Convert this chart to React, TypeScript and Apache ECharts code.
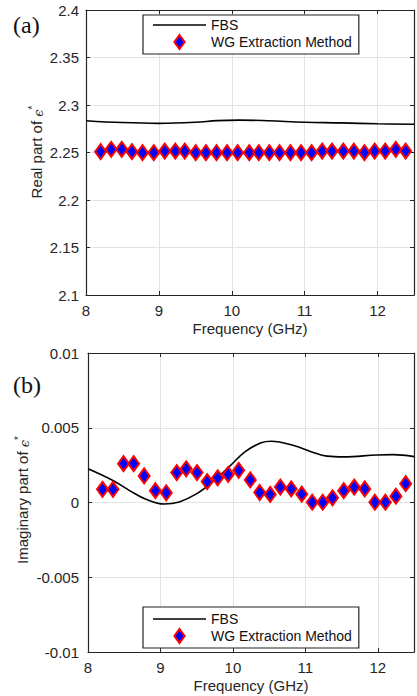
import React, { useEffect, useRef } from 'react';
import * as echarts from 'echarts';

const freq = [8.2, 8.345, 8.49, 8.63, 8.775, 8.93, 9.08, 9.225, 9.355, 9.505, 9.645, 9.79, 9.935, 10.08, 10.24, 10.37, 10.515, 10.655, 10.805, 10.95, 11.095, 11.24, 11.375, 11.53, 11.675, 11.82, 11.96, 12.105, 12.25, 12.385];
const realWG = [2.2509, 2.2533, 2.2533, 2.2509, 2.2498, 2.2498, 2.2515, 2.2515, 2.2515, 2.2498, 2.2498, 2.2498, 2.2498, 2.2498, 2.2498, 2.2498, 2.2498, 2.2498, 2.2498, 2.2498, 2.2498, 2.2515, 2.2515, 2.2515, 2.2515, 2.2498, 2.2515, 2.2515, 2.2533, 2.2515];
const imagWG = [0.00088, 0.00088, 0.0026, 0.0026, 0.00178, 0.00079, 0.00065, 0.002, 0.00225, 0.002, 0.0014, 0.00165, 0.00188, 0.00215, 0.00151, 0.00067, 0.00054, 0.00103, 0.00091, 0.00056, 0.00002, 0.00002, 0.00031, 0.00079, 0.00103, 0.00091, 0.00002, 0.00002, 0.00042, 0.00126];

const fbsRealFreq = [8, 8.5, 9, 9.5, 9.8, 10.1, 10.5, 11, 11.5, 12, 12.5];
const fbsReal = [2.2835, 2.2815, 2.2807, 2.2818, 2.2836, 2.2841, 2.2834, 2.2819, 2.2812, 2.2802, 2.2797];
const fbsImagFreq = [8, 8.35, 8.58, 8.8, 9.05, 9.26, 9.49, 9.71, 9.94, 10.17, 10.39, 10.53, 10.85, 11.08, 11.3, 11.53, 11.99, 12.21, 12.5];
const fbsImag = [0.00226, 0.00146, 0.00078, 0.00022, -0.0001, 0.00004, 0.00056, 0.00135, 0.00235, 0.0034, 0.004, 0.0041, 0.0038, 0.0034, 0.0031, 0.00305, 0.00318, 0.0032, 0.00307];

const xTicks = [8, 9, 10, 11, 12];
const realTicks = ['2.1', '2.15', '2.2', '2.25', '2.3', '2.35', '2.4'];
const imagTicks = ['-0.01', '-0.005', '0', '0.005', '0.01'];

const FONT = '"Liberation Sans", Arial, Helvetica, sans-serif';
const AXIS_COLOR = '#262626';
const GRID_COLOR = '#e3e3e3';

function xAxisCfg(gridIndex: number, top: boolean) {
  return {
    type: 'value', gridIndex, min: 8, max: 12.5, interval: 1,
    position: top ? 'top' : 'bottom',
    axisLine: { show: true, onZero: false, lineStyle: { color: AXIS_COLOR, width: 1.2 } },
    axisTick: { show: true, inside: true, length: 4, lineStyle: { color: AXIS_COLOR } },
    splitLine: { show: !top, lineStyle: { color: GRID_COLOR, width: 1 } },
    axisLabel: {
      show: !top, margin: 8, fontFamily: FONT, fontSize: 15, color: '#262626',
      formatter: (v: number) => (xTicks.indexOf(Math.round(v * 1000) / 1000) >= 0 ? String(v) : ''),
    },
    name: top ? '' : 'Frequency (GHz)', nameLocation: 'middle', nameGap: 26,
    nameTextStyle: { fontFamily: FONT, fontSize: 15, color: '#262626' },
  };
}

function yAxisCfg(gridIndex: number, right: boolean, min: number, max: number, interval: number, ticks: string[], margin: number, digits: number) {
  return {
    type: 'value', gridIndex, min, max, interval,
    position: right ? 'right' : 'left',
    axisLine: { show: true, onZero: false, lineStyle: { color: AXIS_COLOR, width: 1.2 } },
    axisTick: { show: true, inside: true, length: 4, lineStyle: { color: AXIS_COLOR } },
    splitLine: { show: !right, lineStyle: { color: GRID_COLOR, width: 1 } },
    axisLabel: {
      show: !right, margin, fontFamily: FONT, fontSize: 15, color: '#262626',
      formatter: (v: number) => {
        const s = String(+v.toFixed(digits));
        return ticks.indexOf(s) >= 0 ? s : '';
      },
    },
  };
}

const diamondStyle = { color: '#0000ff', borderColor: '#ff0000', borderWidth: 2, opacity: 1 };
const LINE_ICON = 'path://M0,0 L53,0 L53,1.6 L0,1.6 Z';
const DIAMOND_ICON = 'path://M5.5,0 L11,7.5 L5.5,15 L0,7.5 Z';

export default function App() {
  const ref = useRef<HTMLDivElement>(null);
  useEffect(() => {
    if (!ref.current) return;
    const chart = echarts.init(ref.current, null, { renderer: 'svg' });
    const legendCommon = {
      orient: 'vertical', itemWidth: 53, itemHeight: 14, itemGap: 2,
      borderColor: '#222', borderWidth: 1.2, backgroundColor: '#fff', borderRadius: 0,
      textStyle: { fontFamily: FONT, fontSize: 14, color: '#111' },
      data: [
        { name: 'FBS', icon: LINE_ICON, itemStyle: { color: '#000', borderWidth: 0 } },
        { name: 'WG Extraction Method', icon: DIAMOND_ICON, itemStyle: { color: '#0000ff', borderColor: '#ff0000', borderWidth: 2 } },
      ],
      selectedMode: false,
    };
    chart.setOption({
      animation: false,
      backgroundColor: '#fff',
      grid: [
        { left: 86, top: 10, width: 330, height: 285, containLabel: false },
        { left: 88, top: 353, width: 330, height: 299, containLabel: false },
      ],
      xAxis: [xAxisCfg(0, false), xAxisCfg(0, true), xAxisCfg(1, false), xAxisCfg(1, true)],
      yAxis: [
        yAxisCfg(0, false, 2.1, 2.4, 0.05, realTicks, 7, 2),
        yAxisCfg(0, true, 2.1, 2.4, 0.05, realTicks, 7, 2),
        yAxisCfg(1, false, -0.01, 0.01, 0.005, imagTicks, 9, 3),
        yAxisCfg(1, true, -0.01, 0.01, 0.005, imagTicks, 9, 3),
      ],
      legend: [
        { ...legendCommon, left: 143, top: 15, padding: [3, 7, 4, 10] },
        { ...legendCommon, left: 143, top: 607, padding: [5, 7, 4, 10] },
      ],
      series: [
        {
          name: 'FBS', type: 'line', xAxisIndex: 0, yAxisIndex: 0, smooth: 0.4, symbol: 'none',
          lineStyle: { color: '#000', width: 1.6 }, itemStyle: { color: '#000' },
          data: fbsRealFreq.map((f, i) => [f, fbsReal[i]]), z: 2,
        },
        {
          name: 'WG Extraction Method', type: 'scatter', xAxisIndex: 0, yAxisIndex: 0,
          symbol: 'diamond', symbolSize: [11, 15], itemStyle: diamondStyle,
          data: freq.map((f, i) => [f, realWG[i]]), z: 3,
        },
        {
          name: 'FBS', type: 'line', xAxisIndex: 2, yAxisIndex: 2, smooth: 0.4, symbol: 'none',
          lineStyle: { color: '#000', width: 1.6 }, itemStyle: { color: '#000' },
          data: fbsImagFreq.map((f, i) => [f, fbsImag[i]]), z: 2,
        },
        {
          name: 'WG Extraction Method', type: 'scatter', xAxisIndex: 2, yAxisIndex: 2,
          symbol: 'diamond', symbolSize: [11, 15], itemStyle: diamondStyle,
          data: freq.map((f, i) => [f, imagWG[i]]), z: 3,
        },
      ],
      graphic: [
        {
          type: 'text', left: 13, top: 13,
          style: { text: '(a)', font: '24px "Liberation Serif", "Times New Roman", serif', fill: '#111' },
        },
        {
          type: 'text', left: 13, top: 373,
          style: { text: '(b)', font: '24px "Liberation Serif", "Times New Roman", serif', fill: '#111' },
        },
        {
          type: 'text', x: 36, y: 152, rotation: Math.PI / 2,
          style: {
            text: 'Real part of {e|ϵ}{s|*}', align: 'center', verticalAlign: 'middle',
            font: '15px "Liberation Sans", Arial, sans-serif', fill: '#262626', lineHeight: 18,
            rich: {
              e: { fontFamily: '"DejaVu Serif", serif', fontStyle: 'italic', fontSize: 13, lineHeight: 18, verticalAlign: 'bottom' },
              s: { fontSize: 10, lineHeight: 18, verticalAlign: 'top' },
            },
          },
        },
        {
          type: 'text', x: 22, y: 500, rotation: Math.PI / 2,
          style: {
            text: 'Imaginary part of {e|ϵ}{s|*}', align: 'center', verticalAlign: 'middle',
            font: '15px "Liberation Sans", Arial, sans-serif', fill: '#262626', lineHeight: 18,
            rich: {
              e: { fontFamily: '"DejaVu Serif", serif', fontStyle: 'italic', fontSize: 13, lineHeight: 18, verticalAlign: 'bottom' },
              s: { fontSize: 10, lineHeight: 18, verticalAlign: 'top' },
            },
          },
        },
      ],
    });
    return () => chart.dispose();
  }, []);
  return (
    <div
      ref={ref}
      style={{ position: 'fixed', left: 0, top: 0, width: 417, height: 696, background: '#fff' }}
    />
  );
}
